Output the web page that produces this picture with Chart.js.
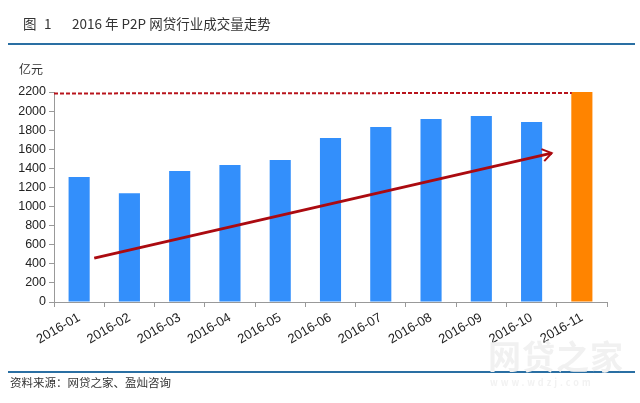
<!DOCTYPE html>
<html><head><meta charset="utf-8">
<script src="https://cdn.jsdelivr.net/npm/chart.js@4"></script>
<style>
html,body{margin:0;padding:0;background:#fff;width:640px;height:403px;overflow:hidden}
#c{position:absolute;left:0;top:0}
.t{position:absolute;white-space:pre;font-family:"Noto Sans CJK SC",sans-serif;color:#333;line-height:1}
.r{position:absolute;left:8px;height:2px;background:#2a6fa3;width:627px}
</style></head><body>
<canvas id="c" width="640" height="403" style="width:640px;height:403px"></canvas>
<div class="t" style="left:23px;top:17px;font-size:13.5px">图</div>
<div class="t" style="left:44px;top:17px;font-size:13.5px">1</div>
<div class="t" style="left:72px;top:17px;font-size:13.5px">2016 年 P2P 网贷行业成交量走势</div>
<div class="r" style="top:43px"></div>
<div class="t" style="left:19px;top:63px;font-size:12px">亿元</div>
<div class="r" style="top:371px"></div>
<div class="t" style="left:10px;top:377px;font-size:11.5px">资料来源：网贷之家、盈灿咨询</div>
<div class="t" style="left:488px;top:339px;font-size:33px;font-weight:700;color:#f1f1f1;letter-spacing:1px">网贷之家</div>
<div class="t" style="left:490px;top:378px;font-size:9px;font-weight:700;color:#f2f2f2;letter-spacing:3px">www.wdzj.com</div>
<script>
const categories=["2016-01","2016-02","2016-03","2016-04","2016-05","2016-06","2016-07","2016-08","2016-09","2016-10","2016-11"];
const volumes=[1310,1140,1372,1435,1487,1718,1833,1917,1948,1886,2200];
const barColors=["#338ffb","#338ffb","#338ffb","#338ffb","#338ffb","#338ffb","#338ffb","#338ffb","#338ffb","#338ffb","#ff8400"];
const trendX=[0.3,9.4];
const trendY=[460,1560];
const capX=[-0.5,9.8];
const capY=[2185,2190];
const yTicks=[0,200,400,600,800,1000,1200,1400,1600,1800,2000,2200];
const annotations={id:'annotations',afterDatasetsDraw(ch){
  const sx=ch.scales.x,sy=ch.scales.y,ctx=ch.ctx;
  const px=v=>sx.getPixelForValue(v),py=v=>sy.getPixelForValue(v);
  ctx.save();
  ctx.strokeStyle='#b8141c';ctx.lineWidth=2;ctx.setLineDash([4,2]);ctx.beginPath();
  ctx.moveTo(px(capX[0]),py(capY[0]));ctx.lineTo(px(capX[1]),py(capY[1]));ctx.stroke();
  ctx.setLineDash([]);
  const ax=px(trendX[0]),ay=py(trendY[0]),bx=px(trendX[1]),by=py(trendY[1]);
  ctx.strokeStyle='#ab0a10';ctx.lineWidth=3;ctx.beginPath();ctx.moveTo(ax,ay);ctx.lineTo(bx,by);ctx.stroke();
  const ang=Math.atan2(by-ay,bx-ax),L=11;
  ctx.lineWidth=2;ctx.beginPath();
  ctx.moveTo(bx-L*Math.cos(ang-0.6),by-L*Math.sin(ang-0.6));
  ctx.lineTo(bx,by);
  ctx.lineTo(bx-L*Math.cos(ang+0.6),by-L*Math.sin(ang+0.6));
  ctx.stroke();ctx.restore();
}};
new Chart(document.getElementById('c'),{
  type:'bar',
  data:{labels:categories,datasets:[
    {data:volumes,backgroundColor:barColors,barPercentage:0.42,categoryPercentage:1}
  ]},
  options:{responsive:false,animation:false,devicePixelRatio:1,
    layout:{padding:{left:0,right:33,top:92,bottom:0}},
    plugins:{legend:{display:false},tooltip:{enabled:false}},
    scales:{
      x:{offset:true,
        grid:{offset:true,drawOnChartArea:false,color:'#999',tickLength:5},
        border:{color:'#999'},
        ticks:{minRotation:30,maxRotation:30,autoSkip:false,color:'#222',padding:3,font:{family:'"Liberation Sans"',size:13}},
        afterFit(s){s.height=101}},
      y:{min:0,max:2200,afterBuildTicks(s){s.ticks=yTicks.map(value=>({value}))},
        grid:{drawOnChartArea:false,color:'#999',tickLength:5},
        border:{color:'#999'},
        ticks:{color:'#222',padding:3,callback:v=>String(v),font:{family:'"Liberation Sans"',size:12.5}},
        afterFit(s){s.width=54}}
    }},
  plugins:[annotations]
});
</script>
</body></html>
